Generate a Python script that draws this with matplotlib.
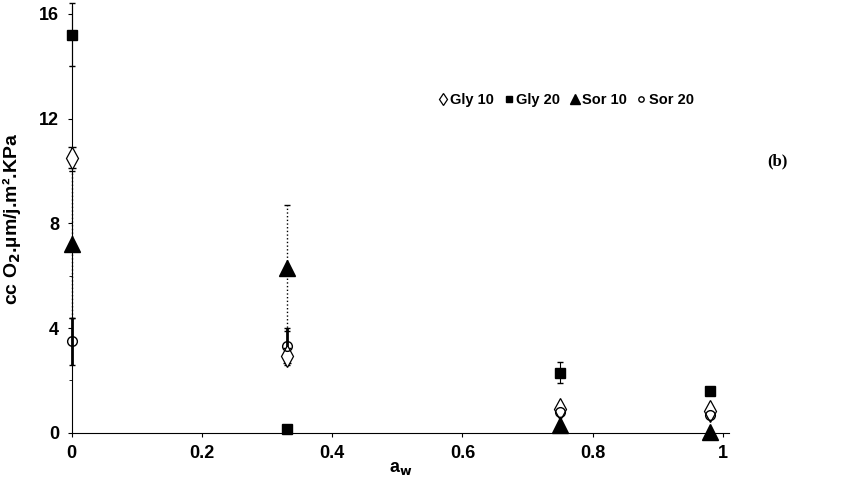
import matplotlib
matplotlib.use("Agg")
import matplotlib.pyplot as plt
import numpy as np

plt.rcParams['font.family'] = ['Liberation Sans', 'DejaVu Sans']
plt.rcParams['font.weight'] = 'bold'

# water activity
aw = [0.0, 0.33, 0.75, 0.98]

# permeability values and error bars
gly10 = [10.5, 2.95, 0.9, 0.85]
gly10_err = [0.4, 0.3, 0.1, 0.1]
gly20 = [15.2, 0.15, 2.3, 1.6]
gly20_err = [1.2, 0.0, 0.4, 0.1]
sor10 = [7.2, 6.3, 0.3, 0.05]
sor10_err = [2.8, 2.4, 0.0, 0.0]
sor20 = [3.5, 3.3, 0.8, 0.7]
sor20_err = [0.9, 0.7, 0.1, 0.1]

xticks = [0, 0.2, 0.4, 0.6, 0.8, 1]
xticklabels = ['0', '0.2', '0.4', '0.6', '0.8', '1']
yticks = [0, 4, 8, 12, 16]

fig = plt.figure(figsize=(8.54, 4.88), dpi=100)
ax = fig.add_axes([0.084, 0.113, 0.77, 0.875])

# error bars
ax.errorbar(aw, gly20, yerr=gly20_err, fmt='none', ecolor='k', elinewidth=0.8, capsize=2, clip_on=False)
ax.errorbar(aw, gly10, yerr=gly10_err, fmt='none', ecolor='k', elinewidth=1.2, capsize=3, clip_on=False)
eb = ax.errorbar(aw, sor10, yerr=sor10_err, fmt='none', ecolor='k', elinewidth=1.0, capsize=2, clip_on=False)
eb[2][0].set_linestyle(':')
ax.errorbar(aw, sor20, yerr=sor20_err, fmt='none', ecolor='k', elinewidth=2.0, capsize=2, clip_on=False)

# markers
ax.plot(aw, gly10, ls='none', marker='d', ms=11, mfc='white', mec='k', mew=0.9, label='Gly 10', clip_on=False, zorder=3)
ax.plot(aw, gly20, ls='none', marker='s', ms=7, color='k', label='Gly 20', clip_on=False, zorder=4)
ax.plot(aw, sor10, ls='none', marker='^', ms=12, color='k', label='Sor 10', clip_on=False, zorder=4)
ax.plot(aw, sor20, ls='none', marker='o', ms=7, mfc='none', mec='k', mew=1.0, label='Sor 20', clip_on=False, zorder=5)

ax.set_xlim(0, 1.01)
ax.set_ylim(0, 16.3)
ax.set_xticks(xticks)
ax.set_xticklabels(xticklabels)
ax.set_yticks(yticks)
ax.set_yticks([2, 6, 10, 14], minor=True)
ax.tick_params(axis='both', labelsize=13, direction='out', length=3, width=0.8, pad=6)
ax.tick_params(axis='y', which='minor', length=2)
for lab in ax.get_xticklabels() + ax.get_yticklabels():
    lab.set_fontweight('bold')

ax.spines['top'].set_visible(False)
ax.spines['right'].set_visible(False)
ax.spines['left'].set_linewidth(0.8)
ax.spines['bottom'].set_linewidth(0.8)

ax.set_xlabel('a$_\\mathbf{w}$', fontsize=13, fontweight='bold', labelpad=-2)
ax.set_ylabel('cc O$_\\mathbf{2}$.\u00b5m/j.m\u00b2.KPa', fontsize=14, fontweight='bold', labelpad=12)

leg = ax.legend(loc='center', bbox_to_anchor=(0.662, 0.795), bbox_transform=fig.transFigure,
                ncol=4, frameon=False, handletextpad=0.1, columnspacing=0.6,
                handlelength=0.8, markerscale=0.55, prop={'weight': 'bold', 'size': 10.5})

fig.text(0.91, 0.67, '(b)', fontsize=12, fontweight='bold', family='Liberation Serif', ha='center', va='center')

fig.savefig('out.png', dpi=100)
